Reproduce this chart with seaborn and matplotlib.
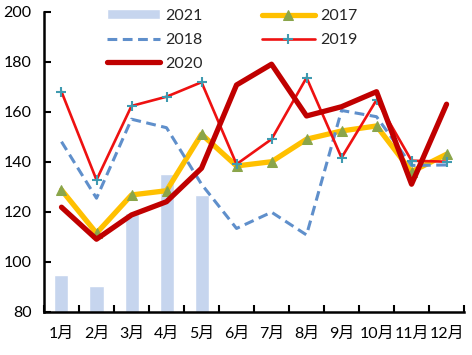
import numpy as np
import pandas as pd
import matplotlib
matplotlib.use("Agg")
import matplotlib.pyplot as plt
import seaborn as sns
from matplotlib.ticker import FixedLocator

months = ["1月", "2月", "3月", "4月", "5月", "6月", "7月", "8月", "9月", "10月", "11月", "12月"]
v2021 = [94.7, 90.3, 119.6, 135.0, 126.7]
v2017 = [128.7, 111.4, 126.7, 128.4, 151.0, 138.3, 140.0, 149.0, 152.3, 154.3, 136.0, 143.0]
v2018 = [148.0, 125.4, 157.0, 153.6, 131.0, 113.3, 119.8, 110.7, 160.5, 158.0, 138.5, 138.7]
v2019 = [168.0, 132.7, 162.3, 166.0, 171.8, 139.0, 149.0, 173.6, 141.6, 164.7, 140.4, 140.0]
v2020 = [121.8, 109.0, 118.7, 124.0, 137.4, 170.7, 179.0, 158.3, 162.0, 168.0, 131.0, 163.0]

sns.set_theme(style="white")
plt.rcParams["font.family"] = ["Lato", "Noto Sans CJK SC", "DejaVu Sans"]

fig = plt.figure(figsize=(4.72, 3.55), dpi=100)
ax = fig.add_axes([0.0932, 0.122, 0.890, 0.845])

x = np.arange(len(months))
bars = pd.DataFrame({"month": months[:len(v2021)], "value": v2021})
sns.barplot(data=bars, x="month", y="value", order=months, color="#C6D5EE",
            saturation=1, width=0.4, ax=ax, label="2021", zorder=1)

sns.lineplot(x=x, y=v2017, ax=ax, color="#FFC000", lw=3.8, marker="^", ms=7.5,
             markerfacecolor="#8AA54A", markeredgecolor="#8AA54A", label="2017", zorder=2)
sns.lineplot(x=x, y=v2018, ax=ax, color="#5F8FCB", lw=2.2, label="2018", zorder=3,
             dashes=False)
ax.lines[-1].set_dashes([3.2, 1.8])
sns.lineplot(x=x, y=v2019, ax=ax, color="#EE1111", lw=1.9, marker="+", ms=7,
             markeredgecolor="#3F9AB0", markeredgewidth=1.5, label="2019", zorder=4)
sns.lineplot(x=x, y=v2020, ax=ax, color="#C00000", lw=3.8, label="2020", zorder=5)

ax.set_xlim(-0.5, 11.5)
ax.set_ylim(80, 200)
ax.set_yticks([80, 100, 120, 140, 160, 180, 200])
ax.set_xticks(x)
ax.set_xticklabels(months)
ax.xaxis.set_minor_locator(FixedLocator(np.arange(-0.5, 12, 1)))
ax.set_xlabel("")
ax.set_ylabel("")
for s in ["top", "right"]:
    ax.spines[s].set_visible(False)
for s in ["left", "bottom"]:
    ax.spines[s].set_color("black")
    ax.spines[s].set_linewidth(1.8)
ax.tick_params(axis="x", which="major", length=0, labelsize=11.5, pad=11, colors="black")
ax.tick_params(axis="x", which="minor", direction="in", length=5, width=1.5, color="black", bottom=True)
ax.tick_params(axis="y", which="major", direction="in", length=5, width=1.5, labelsize=11.5,
               colors="black", left=True, pad=9)

handles, labels = ax.get_legend_handles_labels()
hmap = dict(zip(labels, handles))
order = ["2021", "2018", "2020", "2017", "2019"]
leg = ax.legend([hmap[k] for k in order], order, ncol=2, frameon=False,
                loc="upper left", bbox_to_anchor=(107 / 472, 1 - 9 / 355),
                bbox_transform=fig.transFigure, fontsize=11.5, handlelength=3.3,
                handletextpad=0.35, columnspacing=3.7, labelspacing=0.62,
                borderaxespad=0, borderpad=0, handleheight=0.6)

fig.savefig("out.png", dpi=100)
